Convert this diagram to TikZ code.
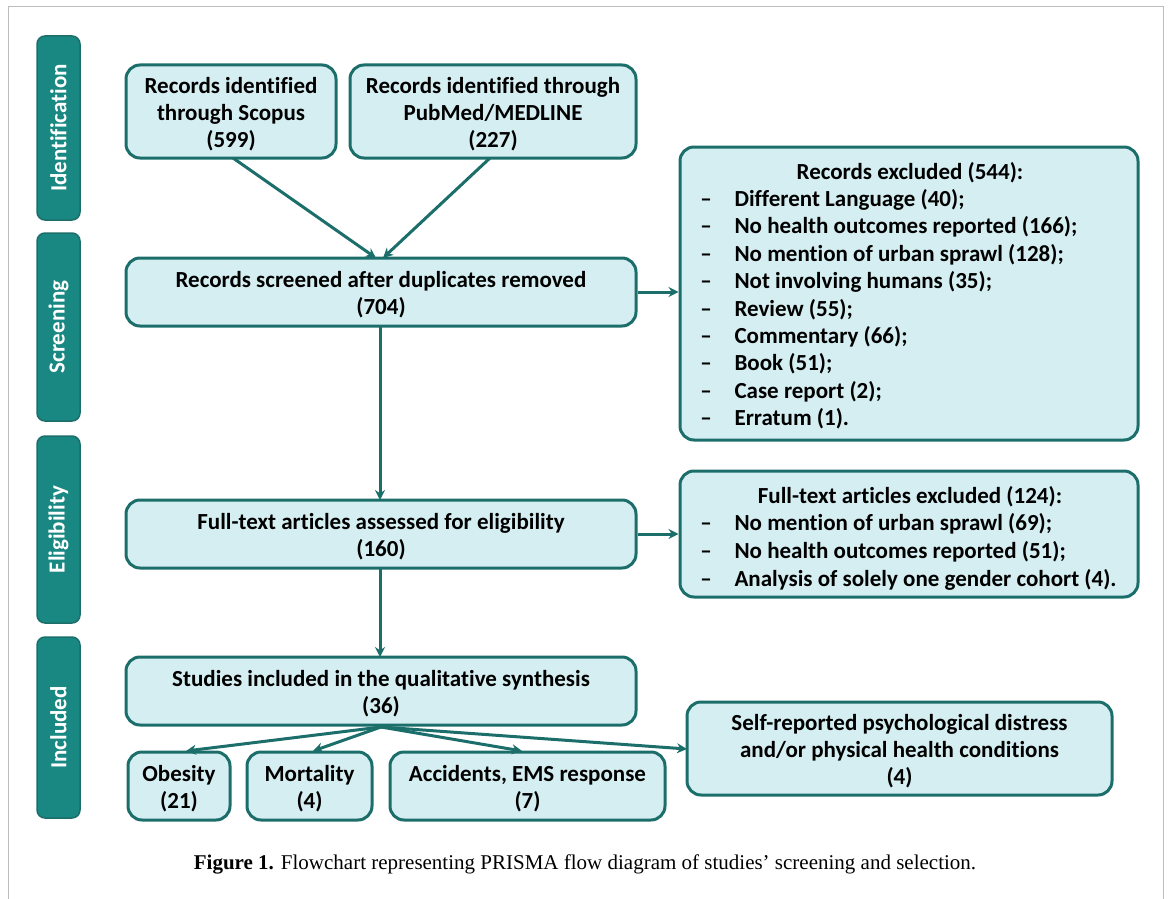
\documentclass[tikz,border=0pt]{standalone}
\usepackage{fontspec}
\setmainfont{Carlito}[Ligatures=NoCommon]
\newfontfamily\capfont{Liberation Serif}
\usetikzlibrary{arrows.meta}
\definecolor{tealdark}{HTML}{1C6E6A}
\definecolor{tealbar}{HTML}{1A8882}
\definecolor{boxfill}{HTML}{D4EEF2}
\definecolor{framegray}{HTML}{BDBDBD}
\tikzset{
  x=1pt, y=-1pt,
  flowbox/.style={draw=tealdark, line width=3pt, fill=boxfill, rounded corners=14pt,
    inner sep=0pt},
  boxtext/.style={inner sep=0pt, align=center, font=\fontsize{23}{27}\selectfont\bfseries},
  sidebar/.style={draw=tealdark, line width=1.5pt, fill=tealbar, rounded corners=8pt,
    inner sep=0pt},
  listtext/.style={font=\fontsize{23}{27}\selectfont\bfseries},
  conn/.style={draw=tealdark, line width=3pt, -{Stealth[length=10pt,width=10pt]}},
}
\newcommand{\flowboxat}[6]{% name, x1, y1, x2, y2, text
  \node[flowbox, minimum width={#4-#2}, minimum height={#5-#3}] (#1) at ({(#2+#4)/2},{(#3+#5)/2}) {};
  \node[boxtext] (#1-text) at ([yshift=-3pt]#1.center) {#6};}
\newcommand{\sidebarat}[4]{% name, y1, y2, text
  \node[sidebar, minimum width=43pt, minimum height={#3-#2}] (#1) at (58.5,{(#2+#3)/2}) {};
  \node[text=white, font=\fontsize{23}{24}\selectfont\bfseries, rotate=90] (#1-label) at (#1.center) {#4};}
\begin{document}
\begin{tikzpicture}
\useasboundingbox (0,0) rectangle (1168,899);
\draw[framegray, line width=1.5pt] (8.5,899) -- (8.5,6.5) -- (1163.5,6.5) -- (1163.5,899);

\sidebarat{sid}{36}{220}{Identification}
\sidebarat{sscr}{233}{421}{Screening}
\sidebarat{selg}{436}{623}{Eligibility}
\sidebarat{sinc}{637}{818}{Included}

\flowboxat{scopus}{126}{65}{336}{158}{Records identified\\through Scopus\\(599)}
\flowboxat{pubmed}{350}{65}{636}{158}{Records identified through\\PubMed/MEDLINE\\(227)}
\flowboxat{screened}{126}{258}{636}{326}{Records screened after duplicates removed\\(704)}
\flowboxat{fulltext}{126}{500}{636}{568}{Full-text articles assessed for eligibility\\(160)}
\flowboxat{included}{126}{657}{636}{725}{Studies included in the qualitative synthesis\\(36)}
\flowboxat{obesity}{128}{752}{230}{820}{Obesity\\(21)}
\flowboxat{mortality}{247}{752}{372}{820}{Mortality\\(4)}
\flowboxat{accidents}{390}{752}{665}{820}{Accidents, EMS response\\(7)}
\flowboxat{selfrep}{687}{702}{1112}{795}{Self-reported psychological distress\\and/or physical health conditions\\(4)}

\flowboxat{recexcl}{680}{147}{1138}{440}{}
\node[listtext, anchor=base] (recexcl-head) at (910,179) {Records excluded (544):};
\foreach \t [count=\i] in {Different Language (40);, No health outcomes reported (166);,
  No mention of urban sprawl (128);, Not involving humans (35);, Review (55);,
  Commentary (66);, Book (51);, Case report (2);, Erratum (1).}{
  \node[listtext, anchor=base] (recexcl-dash-\i) at (706,{179+27.4*\i}) {--};
  \node[listtext, anchor=base west] (recexcl-item-\i) at (731,{179+27.4*\i}) {\t};
}

\flowboxat{ftexcl}{680}{471}{1138}{597}{}
\node[listtext, anchor=base] (ftexcl-head) at (910,503) {Full-text articles excluded (124):};
\foreach \t [count=\i] in {No mention of urban sprawl (69);, No health outcomes reported (51);,
  Analysis of solely one gender cohort (4).}{
  \node[listtext, anchor=base] (ftexcl-dash-\i) at (706,{503+27.7*\i}) {--};
  \node[listtext, anchor=base west] (ftexcl-item-\i) at (731,{503+27.7*\i}) {\t};
}

\coordinate (scopusout) at (233,158);
\coordinate (pubmedout) at (490,158);
\coordinate (in1) at (376,258);
\coordinate (in2) at (383,258);
\draw[conn] (scopusout) -- (in1);
\draw[conn] (pubmedout) -- (in2);
\draw[conn] (screened.east) -- (recexcl.west |- screened.east);
\coordinate (s1) at (380,326);
\coordinate (f1) at (380,500);
\coordinate (f2) at (380,568);
\coordinate (i1) at (380,657);
\draw[conn] (s1) -- (f1);
\draw[conn] (fulltext.east) -- (ftexcl.west |- fulltext.east);
\draw[conn] (f2) -- (i1);
\coordinate (fan) at (381,727);
\coordinate (tob) at (186,751);
\coordinate (tmo) at (313,751);
\coordinate (tac) at (522,751);
\coordinate (tsr) at (687,749);
\draw[conn] (fan) -- (tob);
\draw[conn] (fan) -- (tmo);
\draw[conn] (fan) -- (tac);
\draw[conn] (fan) -- (tsr);

\node[font=\capfont\fontsize{21}{24}\selectfont, anchor=base] (caption) at (585,869)
  {\textbf{Figure 1.} Flowchart representing PRISMA flow diagram of studies’ screening and selection.};
\end{tikzpicture}
\end{document}
